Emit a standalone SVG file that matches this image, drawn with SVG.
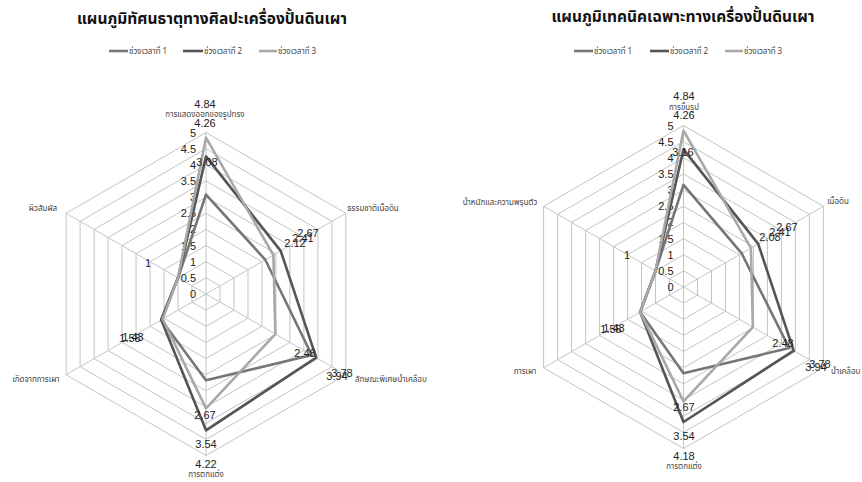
<svg xmlns="http://www.w3.org/2000/svg" xmlns:xlink="http://www.w3.org/1999/xlink" width="862" height="482" viewBox="0 0 862 482">
<style>
.grid{fill:none;stroke:#c4c4c4;stroke-width:1}
.s1{fill:none;stroke:#767676;stroke-width:2.6;stroke-linejoin:round}
.s2{fill:none;stroke:#555555;stroke-width:2.6;stroke-linejoin:round}
.s3{fill:none;stroke:#a8a8a8;stroke-width:2.6;stroke-linejoin:round}
.title{font-family:"Noto Sans Thai","Noto Sans","DejaVu Sans",sans-serif;font-size:15.5px;font-weight:bold;fill:#111;text-anchor:middle}
.leg{font-family:"Noto Sans Thai","Noto Sans","DejaVu Sans",sans-serif;font-size:8px;fill:#444}
.ax{font-family:"Noto Sans Thai","Noto Sans","DejaVu Sans",sans-serif;font-size:8px;fill:#444}
.num{font-family:"Liberation Sans",Arial,sans-serif;font-size:11px;fill:#222;text-anchor:middle}
.ring{font-family:"Liberation Sans",Arial,sans-serif;font-size:11px;fill:#222;text-anchor:end}
.mid{text-anchor:middle}
</style>
<defs>
<g id="hexgrid">
<polygon class="grid" points="0,-16.15 13.99,-8.08 13.99,8.08 0,16.15 -13.99,8.08 -13.99,-8.08"/>
<polygon class="grid" points="0,-32.3 27.97,-16.15 27.97,16.15 0,32.3 -27.97,16.15 -27.97,-16.15"/>
<polygon class="grid" points="0,-48.45 41.96,-24.23 41.96,24.23 0,48.45 -41.96,24.23 -41.96,-24.23"/>
<polygon class="grid" points="0,-64.6 55.94,-32.3 55.94,32.3 0,64.6 -55.94,32.3 -55.94,-32.3"/>
<polygon class="grid" points="0,-80.75 69.93,-40.38 69.93,40.38 0,80.75 -69.93,40.38 -69.93,-40.38"/>
<polygon class="grid" points="0,-96.9 83.92,-48.45 83.92,48.45 0,96.9 -83.92,48.45 -83.92,-48.45"/>
<polygon class="grid" points="0,-113.05 97.9,-56.53 97.9,56.53 0,113.05 -97.9,56.53 -97.9,-56.53"/>
<polygon class="grid" points="0,-129.2 111.89,-64.6 111.89,64.6 0,129.2 -111.89,64.6 -111.89,-64.6"/>
<polygon class="grid" points="0,-145.35 125.88,-72.68 125.88,72.68 0,145.35 -125.88,72.68 -125.88,-72.68"/>
<polygon class="grid" points="0,-161.5 139.86,-80.75 139.86,80.75 0,161.5 -139.86,80.75 -139.86,-80.75"/>
<path class="grid" d="M0,0V-161.5M0,0L139.86,-80.75M0,0L139.86,80.75M0,0V161.5M0,0L-139.86,80.75M0,0L-139.86,-80.75"/>
<g class="ring">
<text x="-10" y="-157.5">5</text>
<text x="-10" y="-141.35">4.5</text>
<text x="-10" y="-125.2">4</text>
<text x="-10" y="-109.05">3.5</text>
<text x="-10" y="-92.9">3</text>
<text x="-10" y="-76.75">2.5</text>
<text x="-10" y="-60.6">2</text>
<text x="-10" y="-44.45">1.5</text>
<text x="-10" y="-28.3">1</text>
<text x="-10" y="-12.15">0.5</text>
<text x="-10" y="4">0</text>
</g>
</g>
</defs>

<g id="left-title"><text class="title" x="212" y="24">แผนภูมิทัศนธาตุทางศิลปะเครื่องปั้นดินเผา</text></g>
<g id="right-title"><text class="title" x="683" y="22">แผนภูมิเทคนิคเฉพาะทางเครื่องปั้นดินเผา</text></g>

<g id="left-legend">
<line class="s1" x1="109" y1="51" x2="128" y2="51"/><text class="leg" x="129" y="54">ช่วงเวลาที่ 1</text>
<line class="s2" x1="183" y1="51" x2="203" y2="51"/><text class="leg" x="204" y="54">ช่วงเวลาที่ 2</text>
<line class="s3" x1="259" y1="51" x2="277" y2="51"/><text class="leg" x="278" y="54">ช่วงเวลาที่ 3</text>
</g>
<g id="right-legend">
<line class="s1" x1="574" y1="51" x2="593" y2="51"/><text class="leg" x="594" y="54">ช่วงเวลาที่ 1</text>
<line class="s2" x1="650" y1="51" x2="669" y2="51"/><text class="leg" x="670" y="54">ช่วงเวลาที่ 2</text>
<line class="s3" x1="725" y1="51" x2="743" y2="51"/><text class="leg" x="744" y="54">ช่วงเวลาที่ 3</text>
</g>

<g id="left-chart" transform="translate(206,294)">
<use href="#hexgrid"/>
<g id="left-series">
<polygon class="s1" points="0,-99.48 59.3,-34.24 105.73,61.05 0,86.24 -44.76,25.84 -27.97,-16.15"/>
<polygon class="s2" points="0,-137.6 74.69,-43.12 110.21,63.63 0,136.31 -44.76,25.84 -27.97,-16.15"/>
<polygon class="s3" points="0,-156.33 67.41,-38.92 69.37,40.05 0,114.34 -43.36,25.03 -27.97,-16.15"/>
</g>
</g>

<g id="left-labels">
<text class="num" x="205" y="108">4.84</text>
<text class="ax mid" x="205" y="117">การแสดงออกของรูปทรง</text>
<text class="num" x="205" y="127">4.26</text>
<text class="num" x="207" y="166">3.08</text>
<text class="ax mid" x="373" y="211">ธรรมชาติเนื้อดิน</text>
<text class="num" x="308" y="237">2.67</text>
<text class="num" x="303" y="242">2.41</text>
<text class="num" x="295" y="247">2.12</text>
<text class="num" x="305" y="357">2.48</text>
<text class="ax" x="355" y="382">ลักษณะพิเศษน้ำเคลือบ</text>
<text class="num" x="337" y="380">3.94</text>
<text class="num" x="342" y="377">3.78</text>
<text class="num" x="205" y="419">2.67</text>
<text class="num" x="206" y="448">3.54</text>
<text class="num" x="206" y="468">4.22</text>
<text class="ax mid" x="206" y="477">การตกแต่ง</text>
<text class="num" x="130" y="342">1.58</text>
<text class="num" x="133" y="341">1.43</text>
<text class="ax mid" x="36" y="382">เกิดจากการเผา</text>
<text class="ax mid" x="43" y="211">ผิวสัมผัส</text>
<text class="num" x="148" y="267">1</text>
</g>

<g id="right-chart" transform="translate(683.5,287)">
<use href="#hexgrid"/>
<g id="right-series">
<polygon class="s1" points="0,-102.07 58.18,-33.59 105.73,61.05 0,86.24 -43.36,25.03 -27.97,-16.15"/>
<polygon class="s2" points="0,-137.6 74.69,-43.12 110.21,63.63 0,135.01 -43.36,25.03 -27.97,-16.15"/>
<polygon class="s3" points="0,-156.33 67.41,-38.92 69.37,40.05 0,114.34 -43.36,25.03 -27.97,-16.15"/>
</g>
</g>

<g id="right-labels">
<text class="num" x="684" y="100">4.84</text>
<text class="ax mid" x="684" y="110">การขึ้นรูป</text>
<text class="num" x="684" y="119">4.26</text>
<text class="num" x="683" y="156">3.16</text>
<text class="ax mid" x="838" y="204">เนื้อดิน</text>
<text class="num" x="787" y="231">2.67</text>
<text class="num" x="780" y="236">2.41</text>
<text class="num" x="770" y="241">2.08</text>
<text class="num" x="783" y="347">2.48</text>
<text class="ax" x="831" y="374">น้ำเคลือบ</text>
<text class="num" x="816" y="371">3.94</text>
<text class="num" x="820" y="368">3.78</text>
<text class="num" x="684" y="411">2.67</text>
<text class="num" x="684" y="440">3.54</text>
<text class="num" x="684" y="460">4.18</text>
<text class="ax mid" x="684" y="469">การตกแต่ง</text>
<text class="num" x="611" y="333">1.58</text>
<text class="num" x="614" y="332">1.43</text>
<text class="ax mid" x="525" y="374">การเผา</text>
<text class="ax mid" x="500" y="205">น้ำหนักและความพรุนตัว</text>
<text class="num" x="627" y="259">1</text>
</g>
</svg>
